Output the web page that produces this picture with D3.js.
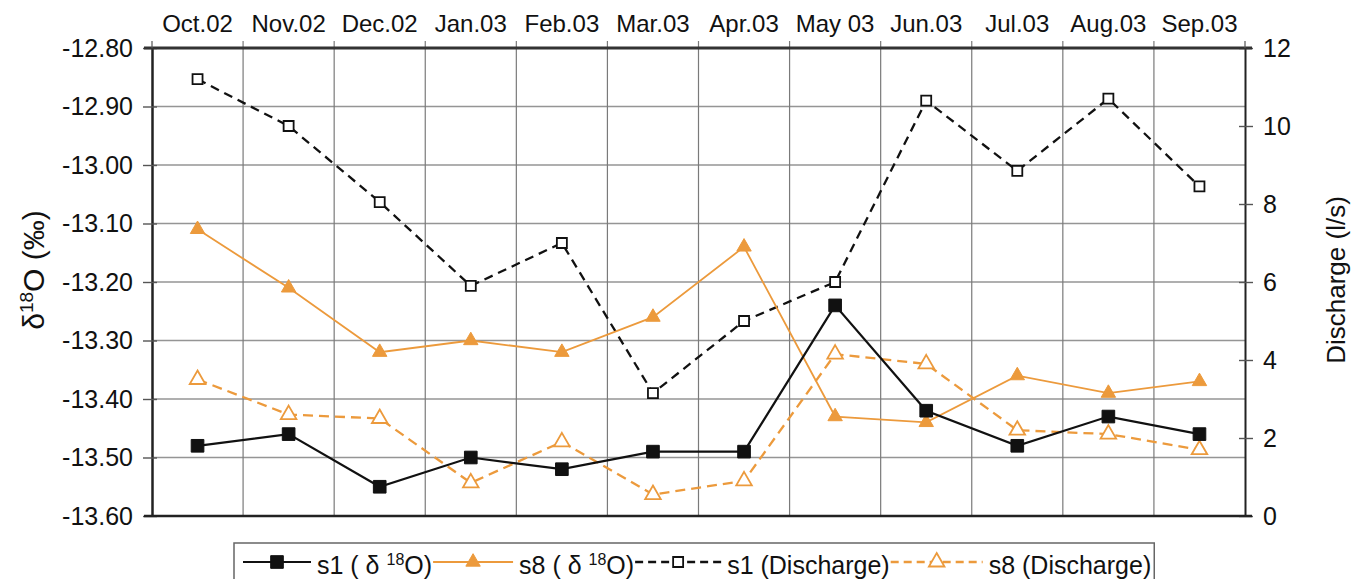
<!DOCTYPE html>
<html>
<head>
<meta charset="utf-8">
<script src="https://cdn.jsdelivr.net/npm/d3@7"></script>
<style>
  body { margin: 0; background: #fff; }
  svg  { font-family: "Liberation Sans", Arial, sans-serif; }
</style>
</head>
<body>
<svg id="chart" width="1355" height="579"></svg>
<script>
/* ============================================================
   1. DATA
   ============================================================ */
const MONTHS = ['Oct.02', 'Nov.02', 'Dec.02', 'Jan.03', 'Feb.03', 'Mar.03',
                'Apr.03', 'May 03', 'Jun.03', 'Jul.03', 'Aug.03', 'Sep.03'];

// δ18O (‰) — left axis
const S1_D18O = [-13.48, -13.46, -13.55, -13.50, -13.52, -13.49,
                 -13.49, -13.24, -13.42, -13.48, -13.43, -13.46];
const S8_D18O = [-13.11, -13.21, -13.32, -13.30, -13.32, -13.26,
                 -13.14, -13.43, -13.44, -13.36, -13.39, -13.37];

// Discharge (l/s) — right axis
const S1_Q = [11.2, 10.0, 8.05, 5.9, 7.0, 3.15, 5.0, 6.0, 10.65, 8.85, 10.7, 8.45];
const S8_Q = [3.5, 2.6, 2.5, 0.85, 1.9, 0.55, 0.9, 4.15, 3.9, 2.2, 2.1, 1.7];

const LEFT_TICKS  = [-12.8, -12.9, -13.0, -13.1, -13.2, -13.3, -13.4, -13.5, -13.6];
const RIGHT_TICKS = [0, 2, 4, 6, 8, 10, 12];


/* ============================================================
   2. CONFIG
   ============================================================ */
const ORANGE = '#EC9A3C';
const BOX = { left: 152, right: 1245, top: 48, bottom: 516 };

const svg = d3.select('#chart');

const x = d3.scaleBand()
  .domain(MONTHS)
  .range([BOX.left, BOX.right])
  .paddingInner(0).paddingOuter(0);

const yL = d3.scaleLinear().domain([-13.6, -12.8]).range([BOX.bottom, BOX.top]);
const yR = d3.scaleLinear().domain([0, 12]).range([BOX.bottom, BOX.top]);

const cx = m => x(m) + x.bandwidth() / 2;

// series definitions: style + which scale
const SERIES = [
  { name: 's1', sup: true,  label: 'δ', values: S1_D18O, scale: yL,
    color: '#111', width: 2.2, dash: null,   symbol: d3.symbolSquare,   size: 160, filled: true },
  { name: 's8', sup: true,  label: 'δ', values: S8_D18O, scale: yL,
    color: ORANGE, width: 1.8, dash: null,   symbol: d3.symbolTriangle, size: 90,  filled: true },
  { name: 's1', sup: false, label: 'Discharge', values: S1_Q, scale: yR,
    color: '#111', width: 2.3, dash: '9,6',  symbol: d3.symbolSquare,   size: 100, filled: false },
  { name: 's8', sup: false, label: 'Discharge', values: S8_Q, scale: yR,
    color: ORANGE, width: 2.3, dash: '10,6', symbol: d3.symbolTriangle, size: 105, filled: false }
];


/* ============================================================
   3. GRID + AXES
   ============================================================ */
function drawGrid() {
  const g = svg.append('g');

  // horizontal grid at each left tick
  g.selectAll('.hgrid')
    .data(LEFT_TICKS.slice(1, -1))
    .join('line')
      .attr('x1', BOX.left).attr('x2', BOX.right)
      .attr('y1', d => yL(d)).attr('y2', d => yL(d))
      .attr('stroke', '#959595').attr('stroke-width', 1.5);

  // vertical grid at month boundaries, poking above the top (top ticks)
  g.selectAll('.vgrid')
    .data(MONTHS.slice(1))
    .join('line')
      .attr('x1', d => x(d)).attr('x2', d => x(d))
      .attr('y1', BOX.top - 7).attr('y2', BOX.bottom)
      .attr('stroke', '#7a7a7a').attr('stroke-width', 1.2);
}

function drawAxes() {
  // left axis
  const left = svg.append('g')
    .attr('transform', `translate(${BOX.left},0)`)
    .call(d3.axisLeft(yL).tickValues(LEFT_TICKS).tickFormat(d3.format('.2f'))
      .tickSizeInner(9).tickSizeOuter(0).tickPadding(10));
  left.select('.domain').attr('stroke', '#222').attr('stroke-width', 2.5);
  left.selectAll('.tick line').attr('x2', 5).attr('x1', -9)
    .attr('stroke', '#555').attr('stroke-width', 1.4);
  left.selectAll('.tick text')
    .attr('font-size', 25).attr('fill', '#111')
    .text(d => d3.format('.2f')(d).replace('−', '-'));

  // right axis
  const right = svg.append('g')
    .attr('transform', `translate(${BOX.right},0)`)
    .call(d3.axisRight(yR).tickValues(RIGHT_TICKS)
      .tickSizeInner(7).tickSizeOuter(0).tickPadding(11));
  right.select('.domain').attr('stroke', '#222').attr('stroke-width', 2);
  right.selectAll('.tick line').attr('x1', -6).attr('x2', 8)
    .attr('stroke', '#555').attr('stroke-width', 1.4);
  right.selectAll('.tick text').attr('font-size', 25).attr('fill', '#111');

  // top border (thicker, double-line look) and bottom border
  svg.append('line')
    .attr('x1', BOX.left - 8).attr('x2', BOX.right + 7)
    .attr('y1', BOX.top).attr('y2', BOX.top)
    .attr('stroke', '#333').attr('stroke-width', 3);
  svg.append('line')
    .attr('x1', BOX.left - 8).attr('x2', BOX.right + 7)
    .attr('y1', BOX.bottom).attr('y2', BOX.bottom)
    .attr('stroke', '#222').attr('stroke-width', 2.5);
  // top ticks at the two borders
  [BOX.left, BOX.right].forEach(px => {
    svg.append('line')
      .attr('x1', px).attr('x2', px)
      .attr('y1', BOX.top - 7).attr('y2', BOX.top)
      .attr('stroke', '#555').attr('stroke-width', 1.2);
  });

  // month labels on top
  svg.selectAll('.month')
    .data(MONTHS)
    .join('text')
      .attr('x', d => cx(d))
      .attr('y', 32)
      .attr('text-anchor', 'middle')
      .attr('font-size', 24)
      .attr('fill', '#111')
      .text(d => d);

  // left title: δ18O (‰)
  const lt = svg.append('text')
    .attr('transform', 'translate(44,270) rotate(-90)')
    .attr('text-anchor', 'middle')
    .attr('font-size', 30)
    .attr('fill', '#111');
  lt.append('tspan').text('δ');
  lt.append('tspan').attr('font-size', 19).attr('dy', -11).text('18');
  lt.append('tspan').attr('dy', 11).text('O (‰)');

  // right title
  svg.append('text')
    .attr('transform', 'translate(1345,280) rotate(-90)')
    .attr('text-anchor', 'middle')
    .attr('font-size', 26)
    .attr('fill', '#111')
    .text('Discharge (l/s)');
}


/* ============================================================
   4. SERIES
   ============================================================ */
function drawSeries() {
  // draw dashed discharge first, isotopes on top
  const order = [2, 3, 1, 0];
  order.forEach(i => {
    const s = SERIES[i];
    const pts = MONTHS.map((m, k) => [cx(m), s.scale(s.values[k])]);

    svg.append('path')
      .datum(pts)
      .attr('d', d3.line())
      .attr('fill', 'none')
      .attr('stroke', s.color)
      .attr('stroke-width', s.width)
      .attr('stroke-dasharray', s.dash);

    svg.append('g').selectAll('path')
      .data(pts)
      .join('path')
        .attr('transform', d => `translate(${d[0]},${d[1]})`)
        .attr('d', d3.symbol(s.symbol, s.size))
        .attr('fill', s.filled ? s.color : '#fff')
        .attr('stroke', s.color)
        .attr('stroke-width', s.filled ? 1 : 1.8);
  });
}


/* ============================================================
   5. LEGEND
   ============================================================ */
function drawLegend() {
  const top = 543, bottom = 579, left = 234;
  const g = svg.append('g');
  const sampleW = [68, 80, 86, 92], gap = 6;
  let px = left + 9;
  const cy = 562;

  SERIES.forEach((s, i) => {
    const w = sampleW[i];
    g.append('line')
      .attr('x1', px).attr('x2', px + w)
      .attr('y1', cy).attr('y2', cy)
      .attr('stroke', s.color).attr('stroke-width', s.width)
      .attr('stroke-dasharray', s.dash ? '8,5' : null);
    g.append('path')
      .attr('transform', `translate(${px + w / 2},${cy})`)
      .attr('d', d3.symbol(s.symbol, s.size))
      .attr('fill', s.filled ? s.color : '#fff')
      .attr('stroke', s.color)
      .attr('stroke-width', s.filled ? 1 : 1.8);
    px += w + gap;

    const t = g.append('text')
      .attr('x', px).attr('y', 574)
      .attr('font-size', 25).attr('fill', '#111');
    if (s.sup) {
      t.append('tspan').text(s.name + ' ( ' + s.label + ' ');
      t.append('tspan').attr('font-size', 16).attr('dy', -9).text('18');
      t.append('tspan').attr('dy', 9).text('O)');
    } else {
      t.text(s.name + ' (' + s.label + ')');
    }
    px += t.node().getComputedTextLength() + 1;
  });

  g.insert('rect', ':first-child')
    .attr('x', left).attr('y', top)
    .attr('width', px - left + 2).attr('height', bottom - top + 4)
    .attr('fill', '#fff')
    .attr('stroke', '#666').attr('stroke-width', 1.5);
}

drawGrid();
drawAxes();
drawSeries();
drawLegend();
</script>
</body>
</html>
